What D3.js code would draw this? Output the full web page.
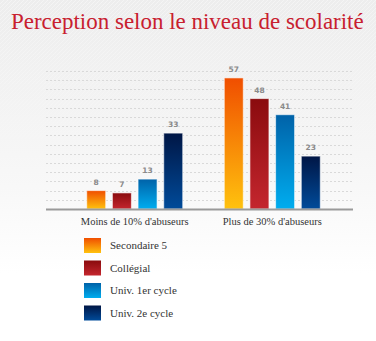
<!DOCTYPE html>
<html><head><meta charset="utf-8">
<script src="https://cdn.jsdelivr.net/npm/d3@7"></script>
<style>html,body{margin:0;padding:0;background:#fff;}svg{display:block;}</style>
</head><body>
<script>
const categories = ["Moins de 10% d'abuseurs", "Plus de 30% d'abuseurs"];
const seriesNames = ["Secondaire 5", "Collégial", "Univ. 1er cycle", "Univ. 2e cycle"];
const secondaire5 = [8, 57];
const collegial = [7, 48];
const univ1 = [13, 41];
const univ2 = [33, 23];
const seriesValues = [secondaire5, collegial, univ1, univ2];
const gridTicks = d3.range(0, 61, 4);
const gradStops = [["#f04e00", "#ffc20e"], ["#8a0b0e", "#c4262e"], ["#0062a8", "#00adef"], ["#001645", "#004b9a"]];

const W = 376, H = 341;
const svg = d3.select("body").append("svg").attr("width", W).attr("height", H);
const defs = svg.append("defs");

const bg = defs.append("linearGradient").attr("id", "bg").attr("x1", 0).attr("y1", 0).attr("x2", 0).attr("y2", 1);
bg.append("stop").attr("offset", "0").attr("stop-color", "#ededed");
bg.append("stop").attr("offset", "0.55").attr("stop-color", "#f8f8f8");
bg.append("stop").attr("offset", "0.8").attr("stop-color", "#ffffff");
svg.append("rect").attr("width", W).attr("height", H).attr("fill", "url(#bg)");

const pat = defs.append("pattern").attr("id", "stripes").attr("width", 4).attr("height", 4)
  .attr("patternUnits", "userSpaceOnUse");
pat.append("path").attr("d", "M0,4 L4,0").attr("stroke", "#ffffff").attr("stroke-width", 0.8).attr("opacity", 0.5);
const fadeG = defs.append("linearGradient").attr("id", "fade").attr("x1", 0).attr("y1", 0).attr("x2", 0).attr("y2", 1);
fadeG.append("stop").attr("offset", 0).attr("stop-color", "#fff");
fadeG.append("stop").attr("offset", 1).attr("stop-color", "#000");
defs.append("mask").attr("id", "fmask").append("rect").attr("width", W).attr("height", 180).attr("fill", "url(#fade)");
svg.append("rect").attr("width", W).attr("height", 180).attr("fill", "url(#stripes)").attr("mask", "url(#fmask)");

gradStops.forEach((s, i) => {
  const g = defs.append("linearGradient").attr("id", "g" + i).attr("x1", 0).attr("y1", 0).attr("x2", 0).attr("y2", 1);
  g.append("stop").attr("offset", 0).attr("stop-color", s[0]);
  g.append("stop").attr("offset", 1).attr("stop-color", s[1]);
});

const title = svg.append("text").attr("x", 11).attr("y", 29)
  .attr("font-family", "'Liberation Serif', serif").attr("font-size", 24).attr("fill", "#c8202f")
  .text("Perception selon le niveau de scolarité");
const tl = title.node().getComputedTextLength();
title.attr("font-size", 24 * 353 / tl);

const x0 = d3.scaleBand().domain(categories).range([50, 357]).paddingInner(0.302).paddingOuter(0.267);
const x1 = d3.scaleBand().domain(seriesNames).range([0, x0.bandwidth()]).paddingInner(0.26);
const y = d3.scaleLinear().domain([0, 60]).range([209, 71]);

svg.append("g").selectAll("line").data(gridTicks.filter(d => d > 0)).join("line")
  .attr("x1", 46).attr("x2", 353).attr("y1", d => Math.round(y(d)) + 0.5).attr("y2", d => Math.round(y(d)) + 0.5)
  .attr("stroke", "#d9d9d9").attr("stroke-width", 1).attr("stroke-dasharray", "2,2");

const groups = svg.append("g").selectAll("g").data(categories).join("g")
  .attr("transform", d => `translate(${x0(d)},0)`);
groups.each(function(cat, ci) {
  const g = d3.select(this);
  seriesNames.forEach((s, si) => {
    const v = seriesValues[si][ci];
    g.append("rect").attr("x", x1(s)).attr("y", y(v)).attr("width", x1.bandwidth()).attr("height", y(0) - y(v))
      .attr("fill", `url(#g${si})`).attr("stroke", "#ffffff").attr("stroke-opacity", 0.6).attr("stroke-width", 1);
    g.append("text").attr("x", x1(s) + x1.bandwidth() / 2).attr("y", y(v) - 6).attr("text-anchor", "middle")
      .attr("font-family", "'DejaVu Sans', sans-serif").attr("font-weight", "bold").attr("font-size", 7.5).attr("fill", "#8a8a8a")
      .text(v);
  });
});

const axis = d3.axisBottom(x0).tickSize(0).tickPadding(9);
const ag = svg.append("g").attr("transform", "translate(0,209)").call(axis);
ag.select(".domain").attr("stroke", "#9a9a9a").attr("stroke-width", 2).attr("d", "M46,0.5H353");
ag.selectAll("text").attr("font-family", "'Liberation Serif', serif").attr("font-size", 10.5).attr("fill", "#333");

const leg = svg.append("g").selectAll("g").data(seriesNames).join("g")
  .attr("transform", (d, i) => `translate(84,${238 + i * 22.5})`);
leg.append("rect").attr("width", 17).attr("height", 15).attr("fill", (d, i) => `url(#g${i})`);
leg.append("text").attr("x", 26).attr("y", 11).attr("font-family", "'Liberation Serif', serif").attr("font-size", 11)
  .attr("fill", "#333").text(d => d);
</script>
</body></html>
